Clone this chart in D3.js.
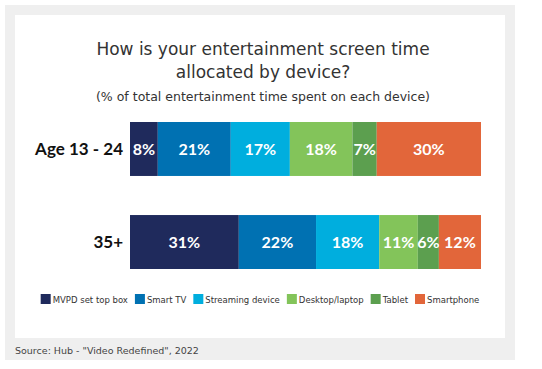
<!DOCTYPE html>
<html>
<head>
<meta charset="utf-8">
<script src="https://cdn.jsdelivr.net/npm/d3@7"></script>
<style>
  body { margin: 0; background: #fff; }
  text { font-family: "DejaVu Sans", sans-serif; }
  .lato { font-family: Lato, "Noto Sans", sans-serif; }
</style>
</head>
<body>
<div id="chart"></div>
<script>
// chart data
const groups = ["Age 13 - 24", "35+"];
const devices = ["MVPD set top box", "Smart TV", "Streaming device", "Desktop/laptop", "Tablet", "Smartphone"];
const age1324 = [8, 21, 17, 18, 7, 30];
const age35 = [31, 22, 18, 11, 6, 12];
const colors = ["#1f2a5c", "#0071b2", "#00aede", "#83c45a", "#5c9f4f", "#e2663a"];
const titleLines = ["How is your entertainment screen time", "allocated by device?"];
const subtitle = "(% of total entertainment time spent on each device)";
const source = "Source: Hub - \"Video Redefined\", 2022";

const W = 542, H = 369;
const svg = d3.select("#chart").append("svg")
    .attr("width", W)
    .attr("height", H);

// grey frame + white panel
svg.append("rect").attr("x", 5).attr("y", 5).attr("width", 510).attr("height", 355).attr("fill", "#efefef");
svg.append("rect").attr("x", 15).attr("y", 15).attr("width", 490).attr("height", 323).attr("fill", "#fff");

const cx = 263;
svg.selectAll(".title")
    .data(titleLines)
    .enter().append("text")
    .attr("class", "title")
    .attr("x", cx)
    .attr("y", (d, i) => 55 + i * 23)
    .attr("text-anchor", "middle")
    .style("font-size", "17px")
    .style("fill", "#333")
    .text(d => d);

svg.append("text")
    .attr("x", cx)
    .attr("y", 101)
    .attr("text-anchor", "middle")
    .style("font-size", "12.5px")
    .style("fill", "#333")
    .text(subtitle);

const rows = [age1324, age35];

const y = d3.scaleBand()
    .domain(groups)
    .range([122, 269])
    .paddingInner(0.42);

rows.forEach(function(vals, r) {
    const total = d3.sum(vals);
    const x = d3.scaleLinear().domain([0, total]).range([130, 481]);
    let segs = [];
    let acc = 0;
    vals.forEach(function(v, i) {
        segs.push({ start: acc, end: acc + v, value: v, color: colors[i] });
        acc += v;
    });
    const g = svg.append("g").attr("class", "row");
    g.selectAll("rect")
        .data(segs)
        .enter().append("rect")
        .attr("x", d => x(d.start))
        .attr("y", y(groups[r]))
        .attr("width", d => x(d.end) - x(d.start))
        .attr("height", y.bandwidth())
        .attr("fill", d => d.color);
    g.selectAll(".val")
        .data(segs)
        .enter().append("text")
        .attr("class", "val lato")
        .attr("x", d => (x(d.start) + x(d.end)) / 2)
        .attr("y", y(groups[r]) + y.bandwidth() / 2 + 6)
        .attr("text-anchor", "middle")
        .style("font-size", "16px")
        .style("font-weight", "bold")
        .style("fill", "#fff")
        .text(d => d.value + "%");
    g.append("text")
        .attr("class", "lato")
        .attr("x", 123)
        .attr("y", y(groups[r]) + y.bandwidth() / 2 + 6)
        .attr("text-anchor", "end")
        .style("font-size", "17px")
        .style("font-weight", "bold")
        .style("fill", "#111")
        .text(groups[r]);
});

// legend, laid out by measured text widths and centred
const legend = svg.append("g");
let lx = 0;
devices.forEach(function(d, i) {
    const item = legend.append("g").attr("transform", `translate(${lx},0)`);
    item.append("rect").attr("x", 0).attr("y", -5).attr("width", 10).attr("height", 10).attr("fill", colors[i]);
    const t = item.append("text")
        .attr("x", 12)
        .attr("y", 3.5)
        .style("font-size", "8.5px")
        .style("fill", "#333")
        .text(d);
    lx += 12 + t.node().getComputedTextLength() + 7;
});
legend.attr("transform", `translate(${260 - (lx - 7) / 2},299)`);

svg.append("text")
    .attr("x", 15)
    .attr("y", 354)
    .style("font-size", "9.5px")
    .style("fill", "#444")
    .text(source);
</script>
</body>
</html>
